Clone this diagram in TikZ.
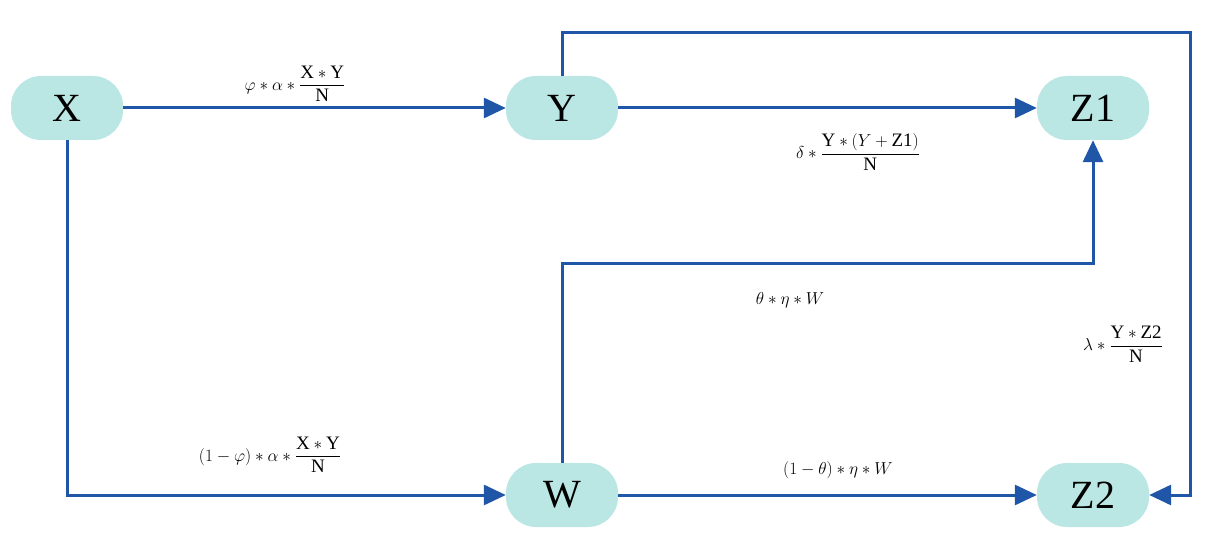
\documentclass[tikz,border=0pt]{standalone}
\usepackage{amsmath}
\usepackage{fontspec}
\setmainfont{Liberation Serif}
\usetikzlibrary{arrows.meta}
\begin{document}
\begin{tikzpicture}[x=1pt,y=-1pt,
  st/.style={draw=none,fill=nfill,rounded corners=30pt,minimum width=112pt,minimum height=64pt,font=\fontsize{40}{40}\selectfont,inner sep=0pt},
  ar/.style={draw=lc,line width=3pt,-{Triangle[length=22pt,width=20pt]}},
  lb/.style={font=\fontsize{19}{22}\selectfont}]
\definecolor{nfill}{HTML}{BAE7E3}
\definecolor{lc}{HTML}{1F56A8}
\useasboundingbox (0,0) rectangle (1210,556);
\node[st] (X) at (67,108) {X};
\node[st] (Y) at (562,108) {Y};
\node[st] (Z1) at (1093,108) {Z1};
\node[st] (W) at (562,495) {W};
\node[st] (Z2) at (1093,495) {Z2};
\draw[ar] (X) -- (Y);
\draw[ar] (Y) -- (Z1);
\draw[ar] (X.south) |- (W);
\draw[ar] (W) -- (Z2);
\coordinate (c1) at (562,263);
\coordinate (c2) at (1093,263);
\draw[ar] (W.north) -- (c1) -- (c2) -- (Z1.south);
\coordinate (d1) at (562,33);
\coordinate (d2) at (1190,33);
\coordinate (d3) at (1190,495);
\draw[ar] (Y.north) -- (d1) -- (d2) -- (d3) -- (Z2.east);
\node[lb] (l1) at (295,84) {$\varphi*\alpha*\dfrac{\mathrm{X*Y}}{\mathrm{N}}$};
\node[lb] (l2) at (858,152) {$\delta*\dfrac{\mathrm{Y}*(Y+\mathrm{Z1})}{\mathrm{N}}$};
\node[lb] (l3) at (790,300) {$\theta*\eta*W$};
\node[lb] (l4) at (1123,344) {$\lambda*\dfrac{\mathrm{Y*Z2}}{\mathrm{N}}$};
\node[lb] (l5) at (270,455) {$(1-\varphi)*\alpha*\dfrac{\mathrm{X*Y}}{\mathrm{N}}$};
\node[lb] (l6) at (838,470) {$(1-\theta)*\eta*W$};
\end{tikzpicture}
\end{document}
